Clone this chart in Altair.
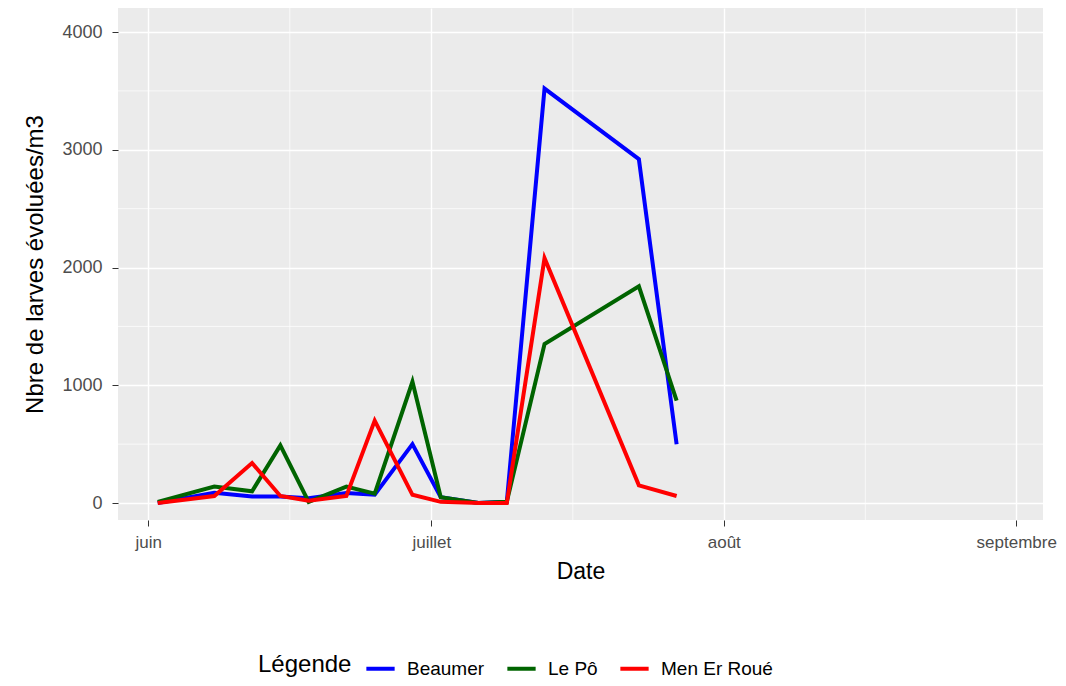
import altair as alt
import pandas as pd

dates = ["2021-06-02", "2021-06-08", "2021-06-12", "2021-06-15", "2021-06-18", "2021-06-22",
         "2021-06-25", "2021-06-29", "2021-07-02", "2021-07-06", "2021-07-09", "2021-07-13",
         "2021-07-23", "2021-07-27"]
beaumer = [0, 88, 55, 55, 40, 85, 70, 500, 50, 0, 10, 3520, 2920, 500]
le_po = [10, 140, 100, 490, 10, 140, 80, 1030, 50, 0, 10, 1350, 1840, 870]
men_er_roue = [0, 60, 340, 60, 20, 60, 700, 70, 10, 0, 0, 2080, 150, 60]
sites = ["Beaumer", "Le Pô", "Men Er Roué"]
colors = ["#0000FF", "#006400", "#FF0000"]
month_ticks = ["2021-06-01", "2021-07-01", "2021-08-01", "2021-09-01"]
minor_x = ["2021-06-16", "2021-07-16", "2021-08-16"]
minor_y = [500, 1500, 2500, 3500]

rows = []
for name, vals in zip(sites, [beaumer, le_po, men_er_roue]):
    for d, v in zip(dates, vals):
        rows.append({"Date": d, "val": v, "site": name})
df = pd.DataFrame(rows)

xdom = ["2021-05-28T19:00", "2021-09-03T20:00"]
ydom = [-144, 4204]
months = "['janvier','février','mars','avril','mai','juin','juillet','août','septembre','octobre','novembre','décembre'][month(datum.value)]"

minx = alt.Chart(pd.DataFrame({"d": minor_x})).mark_rule(color="white", strokeWidth=0.7).encode(
    x=alt.X("d:T").scale(domain=xdom))
miny = alt.Chart(pd.DataFrame({"v": minor_y})).mark_rule(color="white", strokeWidth=0.7).encode(
    y=alt.Y("v:Q").scale(domain=ydom))

lines = alt.Chart(df).mark_line(strokeWidth=4).encode(
    x=alt.X("Date:T").scale(domain=xdom).axis(
        values=month_ticks, labelExpr=months, title="Date", labelAlign="center",
        labelFontSize=17, labelColor="#4D4D4D", titleFontSize=23, titleFontWeight="normal",
        titleColor="black", tickColor="#333333", tickSize=6, domain=False,
        gridColor="white", gridWidth=1.4, labelPadding=8, titlePadding=10,
        labelFlush=False, labelOverlap=False),
    y=alt.Y("val:Q").scale(domain=ydom, nice=False).axis(
        values=[0, 1000, 2000, 3000, 4000], format="d", title="Nbre de larves évoluées/m3",
        labelFontSize=18, labelColor="#4D4D4D", titleFontSize=24, titleFontWeight="normal",
        titleColor="black", tickColor="#333333", tickSize=6, domain=False,
        gridColor="white", gridWidth=1.4, labelPadding=10, titlePadding=14),
    color=alt.Color("site:N").scale(domain=sites, range=colors).legend(
        title="Légende", orient="none", legendX=140, legendY=644, direction="horizontal",
        titleOrient="left", titleFontSize=24, titleFontWeight="normal", titleColor="black",
        labelFontSize=19, labelColor="black", symbolType="stroke", symbolStrokeWidth=4,
        symbolSize=800, columnPadding=14, labelOffset=10, titlePadding=12,
        titleAnchor="middle", titleBaseline="middle"),
)

chart = (minx + miny + lines).properties(
    width=925, height=512, autosize=alt.AutoSizeParams(type="none"),
    padding={"left": 110, "top": 0, "right": 15, "bottom": 162},
).configure(font="Liberation Sans").configure_view(fill="#EBEBEB", stroke=None)

chart.save("out.html", embed_options={"renderer": "svg", "actions": False})
